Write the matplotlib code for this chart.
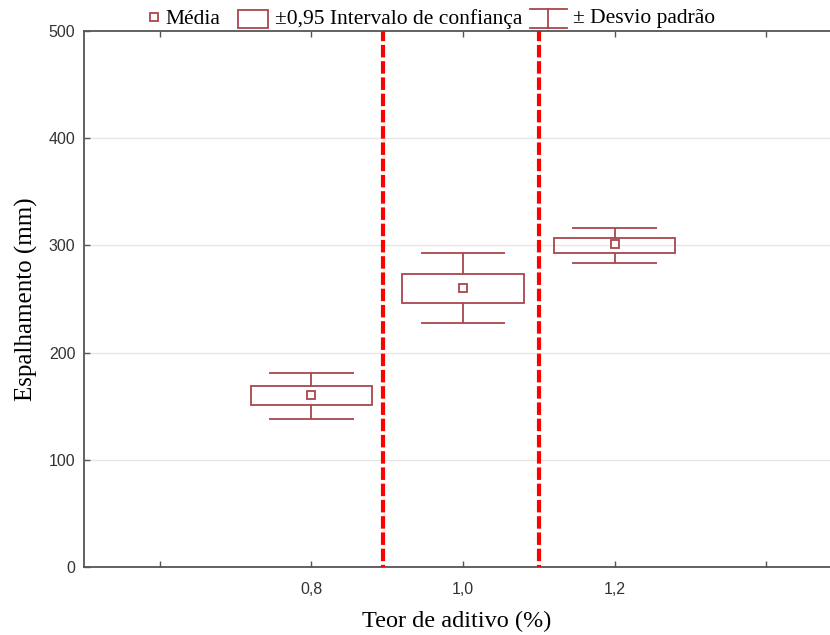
import matplotlib.pyplot as plt
from matplotlib.patches import Rectangle
from matplotlib.lines import Line2D

# data
positions = [1, 2, 3]
tick_pos = [0, 1, 2, 3, 4]
tick_labels = ['', '0,8', '1,0', '1,2', '']
media = [160.5, 260.7, 301.7]
ic_low = [151.0, 246.7, 293.3]
ic_high = [168.5, 273.7, 307.3]
dp_low = [138.5, 228.0, 284.0]
dp_high = [181.5, 293.3, 316.6]
cut_lines = [1.47, 2.5]

box_col = '#a8474c'
serif = ['Liberation Serif', 'DejaVu Serif']
sans = ['Liberation Sans', 'DejaVu Sans']

fig = plt.figure(figsize=(8.3, 6.35), dpi=100)
ax = fig.add_axes([0.101, 0.107, 0.899, 0.844])

ax.set_xlim(-0.5, 4.42)
ax.set_ylim(0, 500)

for y in [100, 200, 300, 400]:
    ax.axhline(y, color='#e6e6e6', lw=1, zorder=0)

# +/- desvio padrao
ax.vlines(positions, ic_high, dp_high, color=box_col, lw=1.3)
ax.vlines(positions, dp_low, ic_low, color=box_col, lw=1.3)
for x, lo, hi in zip(positions, dp_low, dp_high):
    ax.hlines([lo, hi], x - 0.28, x + 0.28, color=box_col, lw=1.3)

# intervalo de confianca
ax.bar(positions, [h - l for h, l in zip(ic_high, ic_low)], bottom=ic_low,
       width=0.8, fill=False, edgecolor=box_col, lw=1.3, zorder=3)

# media
ax.plot(positions, media, ls='none', marker='s', ms=6, mfc='white',
        mec=box_col, mew=1.3, zorder=4)

for x in cut_lines:
    ax.axvline(x, color='#ff0000', lw=3, ls=(2.5, (3, 0.9)), zorder=5)

ax.set_xticks(tick_pos)
ax.set_xticklabels(tick_labels)
ax.set_yticks([0, 100, 200, 300, 400, 500])
ax.tick_params(direction='in', length=4, top=True, width=1, color='#555555',
               labelcolor='#333333', labelsize=11.5)
for lab in ax.get_xticklabels() + ax.get_yticklabels():
    lab.set_family(sans)
ax.tick_params(axis='x', pad=11)
ax.tick_params(axis='y', pad=6)
ax.spines['right'].set_visible(False)
for s in ['left', 'bottom', 'top']:
    ax.spines[s].set_color('#555555')
    ax.spines[s].set_linewidth(1.3)

ax.set_xlabel('Teor de aditivo (%)', family=serif, fontsize=17.5, labelpad=10)
ax.set_ylabel('Espalhamento (mm)', family=serif, fontsize=18, labelpad=8)

# legend on top
ly = 1 - 19 / 635
fs = 15.5
fig.add_artist(Line2D([154 / 830], [1 - 17 / 635], marker='s', ms=6,
                      mfc='white', mec=box_col, mew=1.3, ls='none'))
fig.text(165 / 830, ly, 'Média', family=serif, fontsize=fs, va='center')
fig.add_artist(Rectangle((238 / 830, 1 - 28 / 635), 30 / 830, 18 / 635,
                         fill=False, edgecolor=box_col, lw=1.3))
fig.text(275 / 830, ly, '±0,95 Intervalo de confiança', family=serif,
         fontsize=fs, va='center')
fig.add_artist(Line2D([548 / 830, 548 / 830], [1 - 28 / 635, 1 - 9 / 635],
                      color=box_col, lw=1.3))
fig.add_artist(Line2D([530 / 830, 567 / 830], [1 - 28 / 635, 1 - 28 / 635],
                      color=box_col, lw=1.3))
fig.add_artist(Line2D([530 / 830, 567 / 830], [1 - 9 / 635, 1 - 9 / 635],
                      color=box_col, lw=1.3))
fig.text(573 / 830, ly, '± Desvio padrão', family=serif, fontsize=fs,
         va='center')

fig.savefig('out.png', dpi=100)
